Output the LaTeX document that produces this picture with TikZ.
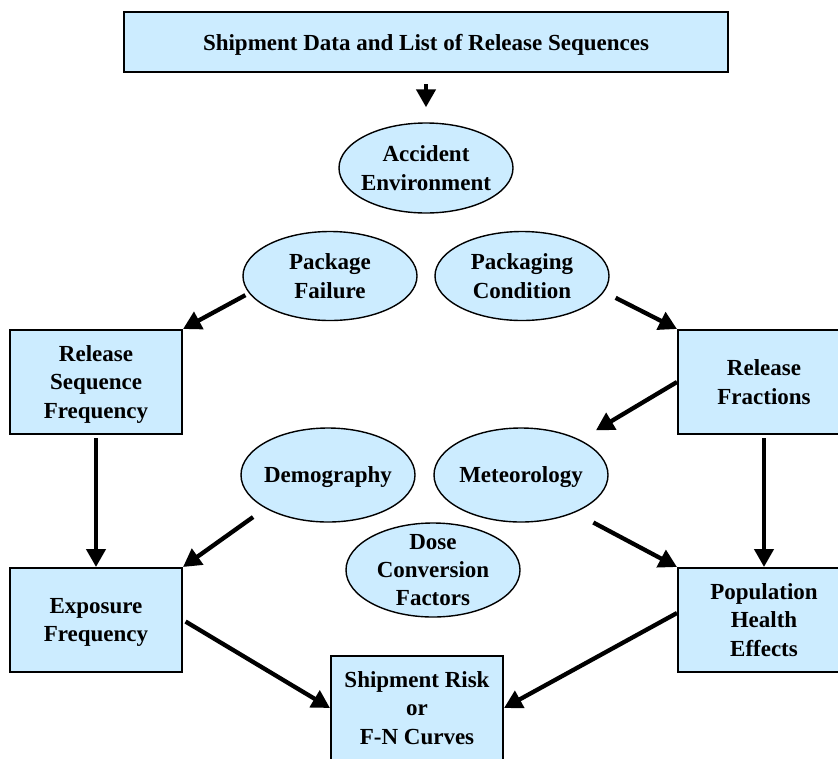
\documentclass[tikz,border=0pt]{standalone}
\usepackage{fontspec}
\setmainfont{Liberation Serif}
\usetikzlibrary{arrows.meta,calc,shapes.geometric,positioning}
\definecolor{paleblue}{RGB}{204,236,255}
\tikzset {
  >={Triangle[length=18pt,width=19pt]},
  every node/.style={font=\fontsize{23}{28.3}\selectfont\bfseries, align=center,
    text depth=-4pt},
  box/.style={draw, line width=2pt, fill=paleblue, minimum width=172pt,
    minimum height=104pt, inner sep=0pt},
  oval/.style={draw, ellipse, line width=1.4pt, fill=paleblue, minimum width=174pt,
    minimum height=90pt, inner xsep=-20pt, inner ysep=-12pt},
  flow/.style={->, line width=4.3pt},
}

\begin{document}
\begin{tikzpicture}[x=1pt,y=-1pt]
  \useasboundingbox (0,0) rectangle (838,758);
  \node[box, minimum width=604pt, minimum height=60pt] (shipdata) at (426,42)
    {Shipment Data and List of Release Sequences};
  \node[oval] (accident) at (426,168) {Accident\\Environment};
  \node[oval, minimum height=89pt] (pkgfail) at (330,276) {Package\\Failure};
  \node[oval, minimum height=89pt] (pkgcond) at (522,276) {Packaging\\Condition};
  \node[box] (relseq) at (96,382) {Release\\Sequence\\Frequency};
  \node[box] (relfrac) at (764,382) {Release\\Fractions};
  \node[oval, minimum height=94pt] (demog) at (328,475) {Demography};
  \node[oval, minimum height=94pt] (meteo) at (521,475) {Meteorology};
  \node[oval, minimum height=94pt] (dose) at (433,570) {Dose\\Conversion\\Factors};
  \node[box] (expfreq) at (96,620) {Exposure\\Frequency};
  \node[box] (health) at (764,620) {Population\\Health\\Effects};
  \node[box] (risk) at (417,708) {Shipment Risk\\or\\F-N Curves};

  \draw[flow, shorten <=11pt, shorten >=15pt] (shipdata.south) -- (accident.north);
  \draw[flow, shorten <=4pt] (pkgfail.192) -- (relseq.north east);
  \draw[flow, shorten <=13pt] (pkgcond.-11) -- (relfrac.north west);
  \draw[flow] (relfrac.west) -- ($(relfrac.west)!.52!(meteo)$);
  \draw[flow, shorten <=3pt] (relseq.south) -- (expfreq.north);
  \draw[flow, shorten <=3pt] (relfrac.south) -- (health.north);
  \draw[flow, shorten <=15pt] (demog.208) -- (expfreq.north east);
  \draw[flow, shorten <=21pt] (meteo.-35) -- (health.north west);
  \draw[flow, shorten <=3pt] (expfreq.east) -- (risk.west);
  \draw[flow] ([yshift=7pt]health.west) -- (risk.east);
\end{tikzpicture}
\end{document}
